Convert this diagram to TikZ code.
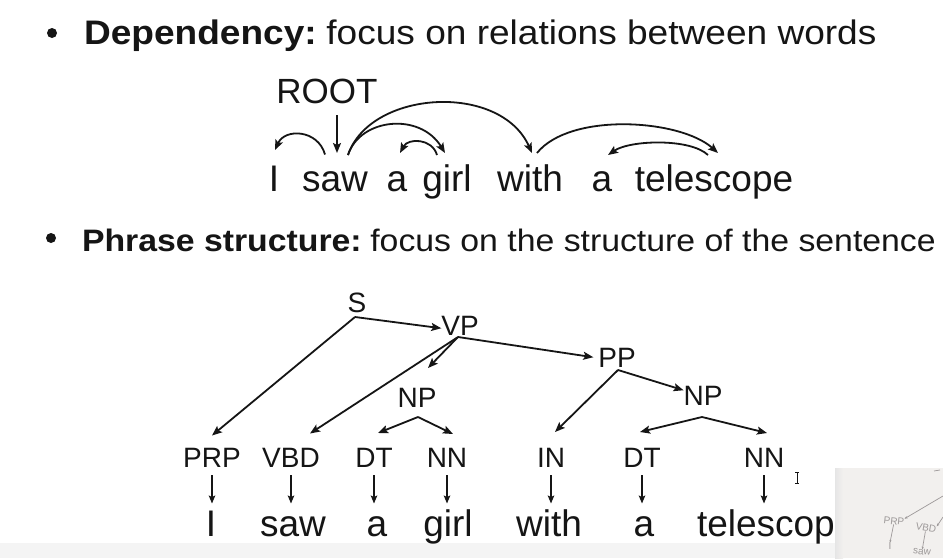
\documentclass[tikz,border=0pt]{standalone}
\usepackage{fontspec}
\setmainfont{Liberation Sans}
\newfontfamily\headfont[FakeStretch=1.09]{Liberation Sans}
\usetikzlibrary{arrows.meta,calc}
\definecolor{ink}{HTML}{151515}
\definecolor{band}{HTML}{F4F4F4}
\definecolor{camback}{HTML}{F2F0EE}
\definecolor{camink}{HTML}{9C9898}
\begin{document}
\begin{tikzpicture}[x=1pt,y=-1pt,
  every node/.style={inner sep=0pt,outer sep=0pt,text=ink},
  headline/.style={anchor=base west,font=\headfont\fontsize{#1}{#1}\selectfont},
  depword/.style={anchor=base,font=\fontsize{37}{37}\selectfont,text height=26.5pt,text depth=0pt},
  rootlabel/.style={anchor=base,font=\fontsize{35}{35}\selectfont,text depth=0pt},
  taglabel/.style={anchor=base,font=\fontsize{28}{28}\selectfont,text height=19.5pt,text depth=0pt},
  leafword/.style={anchor=base,font=\fontsize{37}{37}\selectfont,text height=26.5pt,text depth=0pt},
  arc/.style={draw=ink,line width=1.8pt,-{Stealth[length=10pt,width=8pt,inset=2pt]}},
  tagdown/.style={draw=ink,line width=1.6pt,-{Stealth[length=8pt,width=6.5pt,inset=1.5pt]},shorten <=8pt,shorten >=6pt},
  camtext/.style={text=camink,font=\fontsize{10}{10}\selectfont},
  camline/.style={draw=camink,line width=0.7pt},
]
\useasboundingbox (0,0) rectangle (943,558);
\fill[white] (0,0) rectangle (943,558);
\fill[band] (0,543) rectangle (943,558);

% headings
\fill[ink] (52,33) circle [radius=5pt];
\node[headline=34] (head1) at (84,44) {\textbf{Dependency:}\hspace{-4pt} focus on relations between words};
\fill[ink] (51,238) circle [radius=5pt];
\node[headline=31] (head2) at (82,251) {\textbf{Phrase structure:}\hspace{-4pt} focus on the structure of the sentence};

% dependency structure
\node[rootlabel] (ROOT) at (327,103) {ROOT};
\node[depword] (dI) at (274,191) {I};
\node[depword] (dsaw) at (335,191) {saw};
\node[depword] (da1) at (397,191) {a};
\node[depword] (dgirl) at (447,191) {girl};
\node[depword] (dwith) at (530,191) {with};
\node[depword] (da2) at (602,191) {a};
\node[depword] (dtel) at (714,191) {telescope};

\draw[arc] ([shift={(10pt,-12pt)}]ROOT.south) -- ([shift={(2pt,11.5pt)}]dsaw.north);
\draw[arc] ([shift={(-10pt,10pt)}]dsaw.north) .. controls +(-7,-25) and +(10,-22) .. ([shift={(1pt,14.5pt)}]dI.north);
\draw[arc] ([shift={(13pt,9.5pt)}]dsaw.north) .. controls +(12,-37) and +(-25,-41) .. ([shift={(-2pt,11.5pt)}]dgirl.north);
\draw[arc] ([shift={(13pt,9.5pt)}]dsaw.north) .. controls +(22,-65) and +(-32,-71) .. ([shift={(2pt,11.5pt)}]dwith.north);
\draw[arc] ([shift={(-10pt,9.5pt)}]dgirl.north) .. controls +(-5,-17) and +(8,-15) .. ([shift={(3pt,11.5pt)}]da1.north);
\draw[arc] ([shift={(7pt,11.5pt)}]dwith.north) .. controls +(33,-41) and +(-38,-34) .. ([shift={(4pt,11.5pt)}]dtel.north);
\draw[arc] ([shift={(-6pt,9.5pt)}]dtel.north) .. controls +(-18,-17) and +(22,-15) .. ([shift={(6pt,9.5pt)}]da2.north);

% phrase structure tree
\node[taglabel] (S) at (357,312) {S};
\node[taglabel] (VP) at (460,335) {VP};
\node[taglabel] (NPa) at (417,407) {NP};
\node[taglabel] (PP) at (617,367) {PP};
\node[taglabel] (NPb) at (703,405) {NP};
\node[taglabel] (PRP) at (212,467) {PRP};
\node[taglabel] (VBD) at (291,467) {VBD};
\node[taglabel] (DT1) at (374,467) {DT};
\node[taglabel] (NN1) at (447,467) {NN};
\node[taglabel] (IN) at (551,467) {IN};
\node[taglabel] (DT2) at (642,467) {DT};
\node[taglabel] (NN2) at (764,467) {NN};

\node[leafword] (l1) at (211,536) {I};
\node[leafword] (l2) at (293,536) {saw};
\node[leafword] (l3) at (377,536) {a};
\node[leafword] (l4) at (448,536) {girl};
\node[leafword] (l5) at (549,536) {with};
\node[leafword] (l6) at (644,536) {a};
\node[leafword,anchor=base west] (l7) at (697,536) {telescope};

\draw[arc] ([shift={(-2pt,-5pt)}]S.south) -- ([shift={(0pt,12pt)}]PRP.north);
\draw[arc] ([shift={(-2pt,-5pt)}]S.south) -- ([yshift=-3pt]VP.west);
\draw[arc] ([shift={(-2pt,-2pt)}]VP.south) -- ([shift={(19pt,14pt)}]VBD.north);
\draw[arc] ([shift={(-2pt,-2pt)}]VP.south) -- ([shift={(11pt,19.5pt)}]NPa.north);
\draw[arc] ([shift={(-2pt,-2pt)}]VP.south) -- ([xshift=-5pt]PP.west);
\draw[arc] ([shift={(1pt,-10pt)}]NPa.south) -- ([shift={(4pt,14.5pt)}]DT1.north);
\draw[arc] ([shift={(1pt,-10pt)}]NPa.south) -- ([shift={(6pt,13.5pt)}]NN1.north);
\draw[arc] ([shift={(1pt,-3pt)}]PP.south) -- ([shift={(4pt,15.5pt)}]IN.north);
\draw[arc] ([shift={(1pt,-3pt)}]PP.south) -- ([yshift=5pt]NPb.west);
\draw[arc] ([shift={(-1pt,-12pt)}]NPb.south) -- ([shift={(-2pt,15.5pt)}]DT2.north);
\draw[arc] ([shift={(-1pt,-12pt)}]NPb.south) -- ([shift={(3pt,14.5pt)}]NN2.north);

\draw[tagdown] (PRP.south) -- (PRP.south |- l1.north);
\draw[tagdown] (VBD.south) -- (VBD.south |- l2.north);
\draw[tagdown] (DT1.south) -- (DT1.south |- l3.north);
\draw[tagdown] (NN1.south) -- (NN1.south |- l4.north);
\draw[tagdown] (IN.south) -- (IN.south |- l5.north);
\draw[tagdown] (DT2.south) -- (DT2.south |- l6.north);
\draw[tagdown] (NN2.south) -- (NN2.south |- l7.north);

% text cursor
\draw[ink,line width=0.8pt] (797,472) -- (797,483) (795,472) -- (799,472) (795,483) -- (799,483);

% camera inset
\fill[camback] (835,468) rectangle (943,558);
\shade[left color=black!10,right color=camback] (835,468) rectangle (843,558);
\node[camtext,rotate=-6] (camPRP) at (894,521) {PRP};
\node[camtext,rotate=-10] (camVBD) at (926,528) {VBD};
\node[camtext] (camI) at (890,546) {I};
\node[camtext,rotate=-6] (camsaw) at (922,552) {saw};
\coordinate (camA) at (943,496);
\coordinate (camB) at (943,517);
\draw[camline,-{Stealth[length=3pt,width=2.5pt]}] (camA) -- (camPRP.north east);
\draw[camline,-{Stealth[length=3pt,width=2.5pt]}] (camB) -- (camVBD.north east);
\draw[camline,-{Stealth[length=2.5pt,width=2pt]}] (camPRP.south) -- (camI.north);
\draw[camline,-{Stealth[length=2.5pt,width=2pt]}] (camVBD.south) -- (camsaw.north);
\draw[camline] (934,471) -- (940,470);
\end{tikzpicture}
\end{document}
